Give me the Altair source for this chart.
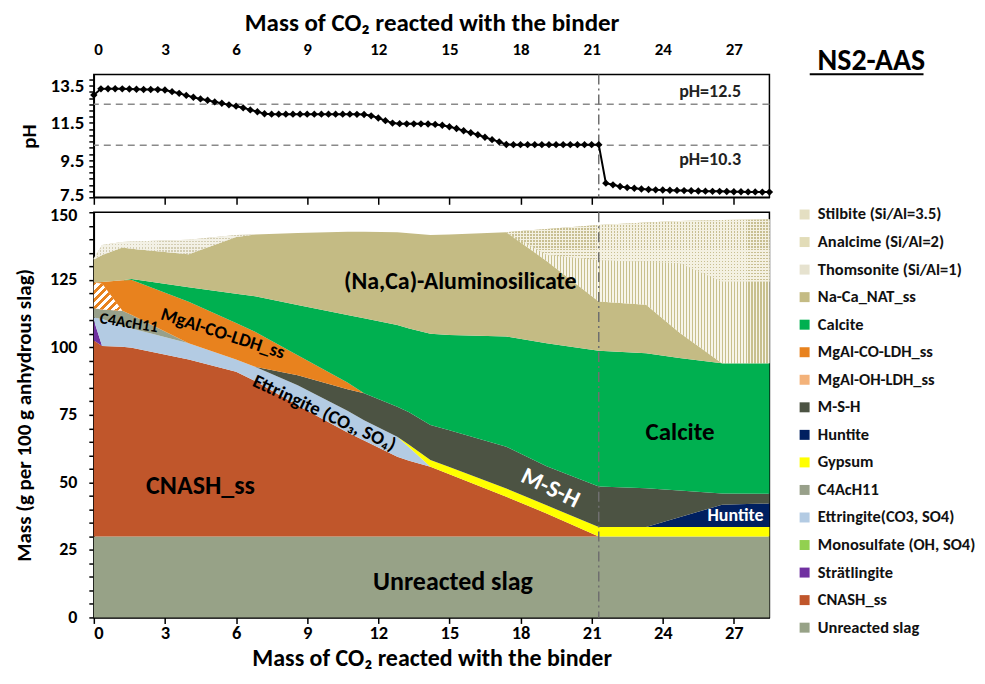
import altair as alt
import pandas as pd

FONT = "Carlito, Lato, 'Open Sans', sans-serif"

# ---------------- pH panel data ----------------
PH_X = [0.0, 0.3, 0.6, 0.9, 1.2, 1.5, 1.8, 2.1, 2.4, 2.7, 3.0, 3.3, 3.6, 3.9, 4.2, 4.5,
        4.8, 5.1, 5.4, 5.7, 6.0, 6.3, 6.6, 6.9, 7.2, 7.5, 7.8, 8.1, 8.4, 8.7, 9.0, 9.3,
        9.6, 9.9, 10.2, 10.5, 10.8, 11.1, 11.4, 11.7, 12.0, 12.3, 12.6, 12.9, 13.2, 13.5,
        13.8, 14.1, 14.4, 14.7, 15.0, 15.3, 15.6, 15.9, 16.2, 16.5, 16.8, 17.1, 17.4, 17.7,
        18.0, 18.3, 18.6, 18.9, 19.2, 19.5, 19.8, 20.1, 20.4, 20.7, 21.0, 21.3, 21.6, 21.9,
        22.2, 22.5, 22.8, 23.1, 23.4, 23.7, 24.0, 24.3, 24.6, 24.9, 25.2, 25.5, 25.8, 26.1,
        26.4, 26.7, 27.0, 27.3, 27.6, 27.9, 28.2, 28.5]
PH = [13.00, 13.33, 13.34, 13.34, 13.33, 13.32, 13.31, 13.30, 13.30, 13.29, 13.27, 13.18,
      13.09, 12.98, 12.88, 12.79, 12.72, 12.63, 12.56, 12.47, 12.40, 12.31, 12.20, 12.10,
      11.99, 11.97, 11.97, 11.97, 11.97, 11.97, 11.97, 11.97, 11.97, 11.97, 11.97, 11.97,
      11.97, 11.96, 11.95, 11.88, 11.76, 11.62, 11.49, 11.46, 11.45, 11.45, 11.45, 11.44,
      11.42, 11.37, 11.29, 11.20, 11.08, 10.97, 10.86, 10.73, 10.60, 10.48, 10.34, 10.33,
      10.33, 10.33, 10.33, 10.33, 10.33, 10.33, 10.33, 10.33, 10.33, 10.33, 10.33, 10.33,
      8.26, 8.17, 8.08, 8.02, 7.99, 7.95, 7.92, 7.90, 7.89, 7.88, 7.87, 7.86, 7.85, 7.84,
      7.83, 7.82, 7.82, 7.81, 7.80, 7.80, 7.79, 7.79, 7.78, 7.78]
PH_REF = [12.5, 10.3]
PH_REF_TEXT = ["pH=12.5", "pH=10.3"]
PH_REF_TEXT_X = [26.0, 26.0]
PH_REF_TEXT_Y = [13.17, 9.5]
TRANSITION_X = [21.3]

X_TICKS = [0, 3, 6, 9, 12, 15, 18, 21, 24, 27]
PH_LABELS = [7.5, 9.5, 11.5, 13.5]
MASS_LABELS = [0, 25, 50, 75, 100, 125, 150]

# ---------------- phase assemblage (cumulative tops) ----------------
X_CO2 = [0, 0.35, 1.2, 1.6, 4, 6, 6.8, 8.6, 10.7, 11.4, 12.8, 13.3, 14.2, 15, 17.4,
         19.1, 21.3, 23.3, 24.7, 26.5, 28.5]
TOP_SLAG = [30, 30, 30, 30, 30, 30, 30, 30, 30, 30, 30, 30, 30, 30, 30, 30, 30, 30, 30, 30, 30]
TOP_CNASH = [102.5, 100.5, 100.2, 99.8, 95.5, 91.0, 87.5, 78.5, 68.5, 65.5, 59.5, 58.0, 55.8,
             53.0, 44.7, 38.5, 30.0, 30.0, 30.0, 30.0, 30.0]
TOP_STRAT = [110.0, 100.5, 100.2, 99.8, 95.5, 91.0, 87.5, 78.5, 68.5, 65.5, 59.5, 58.0, 55.8,
             53.0, 44.7, 38.5, 30.0, 30.0, 30.0, 30.0, 30.0]
TOP_MONO = [110.0, 100.5, 100.2, 99.8, 95.5, 91.0, 87.5, 78.5, 68.5, 65.5, 59.5, 58.0, 55.8,
            53.0, 44.7, 38.5, 30.0, 30.0, 30.0, 30.0, 30.0]
TOP_ETTR = [111.0, 110.5, 108.0, 107.0, 101.5, 95.5, 92.8, 86.0, 76.5, 73.0, 66.9, 63.0, 55.8,
            53.0, 44.7, 38.5, 30.0, 30.0, 30.0, 30.0, 30.0]
TOP_C4 = [114.5, 114.0, 113.5, 112.0, 101.5, 95.5, 92.8, 86.0, 76.5, 73.0, 66.9, 63.0, 55.8,
          53.0, 44.7, 38.5, 30.0, 30.0, 30.0, 30.0, 30.0]
TOP_GYP = [114.5, 114.0, 113.5, 112.0, 101.5, 95.5, 92.8, 86.0, 76.5, 73.0, 66.9, 63.9, 58.3,
           55.7, 47.7, 41.5, 33.5, 33.5, 33.5, 33.5, 33.5]
TOP_HUNT = [114.5, 114.0, 113.5, 112.0, 101.5, 95.5, 92.8, 86.0, 76.5, 73.0, 66.9, 63.9, 58.3,
            55.7, 47.7, 41.5, 33.5, 33.5, 37.1, 41.7, 42.2]
TOP_MSH = [114.5, 114.0, 113.5, 112.0, 101.5, 95.5, 92.8, 89.7, 84.5, 83.0, 78.0, 76.0, 71.2,
           69.3, 63.2, 56.0, 48.5, 47.8, 47.0, 45.9, 45.8]
TOP_MGOH = [124.0, 123.5, 113.5, 112.0, 101.5, 95.5, 92.8, 89.7, 84.5, 83.0, 78.0, 76.0, 71.2,
            69.3, 63.2, 56.0, 48.5, 47.8, 47.0, 45.9, 45.8]
TOP_MGCO = [124.0, 124.2, 124.8, 124.9, 116.9, 109.0, 105.8, 97.1, 87.0, 83.0, 78.0, 76.0, 71.2,
            69.3, 63.2, 56.0, 48.5, 47.8, 47.0, 45.9, 45.8]
TOP_CALC = [124.0, 124.2, 124.8, 125.3, 122.2, 119.8, 118.9, 115.7, 112.0, 110.8, 108.3, 107.0,
            105.0, 104.6, 104.0, 101.5, 98.7, 97.8, 96.0, 94.1, 94.1]
TOP_NACA = [132.5, 134.2, 137.0, 136.5, 134.5, 140.8, 141.8, 142.3, 142.8, 142.8, 142.6, 142.2,
            141.6, 141.8, 142.6, 132.0, 117.0, 115.8, 105.5, 94.1, 94.1]
TOP_THOM = [133.0, 137.9, 139.0, 139.2, 139.8, 141.6, 141.8, 142.3, 142.8, 142.8, 142.6, 142.2,
            141.6, 141.8, 142.6, 132.0, 117.0, 115.8, 105.5, 94.1, 94.1]
TOP_ANAL = [133.0, 137.9, 139.0, 139.2, 139.8, 141.6, 141.8, 142.3, 142.8, 142.8, 142.6, 142.2,
            141.6, 141.8, 142.6, 134.2, 132.2, 131.6, 131.1, 124.3, 124.3]
TOP_STIL = [133.0, 137.9, 139.0, 139.2, 139.8, 141.6, 141.8, 142.3, 142.8, 142.8, 142.6, 142.2,
            141.6, 141.8, 142.6, 143.8, 145.3, 146.2, 146.8, 147.1, 147.4]

PHASES = ["Stilbite (Si/Al=3.5)", "Analcime (Si/Al=2)", "Thomsonite (Si/Al=1)", "Na-Ca_NAT_ss",
          "Calcite", "MgAl-CO-LDH_ss", "MgAl-OH-LDH_ss", "M-S-H", "Huntite", "Gypsum", "C4AcH11",
          "Ettringite(CO3, SO4)", "Monosulfate (OH, SO4)", "Strätlingite", "CNASH_ss",
          "Unreacted slag"]
COLORS = ["#e4dfc2", "#e2dcb8", "#e6e2cf", "#c4bb84", "#00b050", "#e8821e", "#f3b27a", "#4c5343",
          "#002060", "#ffff00", "#98a08a", "#b3cbe3", "#92d050", "#7030a0", "#c0562b", "#97a287"]
TOPS = [TOP_STIL, TOP_ANAL, TOP_THOM, TOP_NACA, TOP_CALC, TOP_MGCO, TOP_MGOH, TOP_MSH, TOP_HUNT,
        TOP_GYP, TOP_C4, TOP_ETTR, TOP_MONO, TOP_STRAT, TOP_CNASH, TOP_SLAG]

# annotations (data coordinates)
ANN_TEXT = ["(Na,Ca)-Aluminosilicate", "MgAl-CO-LDH_ss", "C4AcH11", "Ettringite (CO₃, SO₄)",
            "CNASH_ss", "Calcite", "M-S-H", "Huntite", "Unreacted slag"]
ANN_X = [15.46, 5.45, 1.48, 9.73, 4.5, 24.73, 19.26, 27.07, 15.15]
ANN_Y = [124.3, 105.2, 109.1, 75.7, 48.7, 68.7, 47.8, 37.5, 13.1]
ANN_ANGLE = [0, 18, 9, 25, 0, 0, 26, 0, 0]
ANN_SIZE = [24, 18.5, 16, 19, 26, 25, 24, 18, 26]
ANN_COLOR = ["black", "black", "black", "black", "black", "black", "white", "white", "black"]

# ---------------- build tables ----------------
rows = []
prev = [0] * len(X_CO2)
for name, top in list(zip(PHASES, TOPS))[::-1]:
    for xv, lo, hi in zip(X_CO2, prev, top):
        rows.append({"x": xv, "lo": lo, "hi": hi, "phase": name})
    prev = top
df = pd.DataFrame(rows)


def stripes(c1, c2, n, frac, x2, y2):
    stops = []
    for i in range(n):
        a, b, c = i / n, (i + frac) / n, (i + 1) / n
        stops += [{"offset": a, "color": c1}, {"offset": b, "color": c1},
                  {"offset": b, "color": c2}, {"offset": c, "color": c2}]
    return {"gradient": "linear", "x1": 0, "y1": 0, "x2": x2, "y2": y2, "stops": stops}


W = 677
xs_top = alt.Scale(domain=[0, 28.5], nice=False, zero=False)
ys_ph = alt.Scale(domain=[7.5, 14.1], nice=False, zero=False)
xs = alt.Scale(domain=[0, 28.5], nice=False, zero=False)
ys = alt.Scale(domain=[0, 150], nice=False, zero=False)

ph_tick_values = [round(7.5 + i / 3, 3) for i in range(20)]
ph_label_expr = "indexof(%s, datum.value) >= 0 ? format(datum.value, '.1f') : ''" % PH_LABELS
mass_tick_values = list(range(0, 151, 5))
mass_label_expr = "indexof(%s, datum.value) >= 0 ? datum.label : ''" % MASS_LABELS

# ---------------- top panel ----------------
ph_df = pd.DataFrame({"x": PH_X, "ph": PH})
ph_line = alt.Chart(ph_df).mark_line(
    color="black", strokeWidth=2,
    point=alt.OverlayMarkDef(shape="diamond", size=55, filled=True, color="black"),
).encode(
    x=alt.X("x:Q", scale=xs_top, axis=alt.Axis(
        orient="top", values=X_TICKS, title="Mass of CO₂ reacted with the binder",
        ticks=False, tickSize=0, labelPadding=16, titlePadding=5, titleFontSize=25,
        labelFontSize=17, grid=False, domain=False)),
    y=alt.Y("ph:Q", scale=ys_ph, axis=alt.Axis(
        orient="left", values=ph_tick_values, labelExpr=ph_label_expr, title="pH", tickSize=5,
        labelPadding=5, titlePadding=10, labelFontSize=19, titleFontSize=21, grid=False,
        labelOffset={"condition": {"test": "datum.value == 7.5", "value": -3}, "value": 0})),
)
ph_rules = alt.Chart(pd.DataFrame({"ph": PH_REF})).mark_rule(
    color="#8a8a8a", strokeDash=[7, 5], strokeWidth=1.5
).encode(y=alt.Y("ph:Q", scale=ys_ph, axis=None))
vline_top = alt.Chart(pd.DataFrame({"x": TRANSITION_X})).mark_rule(
    color="#6f6f6f", strokeDash=[10, 4, 2, 4], strokeWidth=1.5
).encode(x=alt.X("x:Q", scale=xs_top, axis=alt.Axis(
    orient="bottom", values=X_TICKS, labels=False, title=None, tickSize=7, grid=False)))
ph_txt = alt.Chart(pd.DataFrame({"x": PH_REF_TEXT_X, "y": PH_REF_TEXT_Y, "t": PH_REF_TEXT})).mark_text(
    font=FONT, fontWeight="bold", fontSize=18, color="#222222"
).encode(x=alt.X("x:Q", scale=xs_top, axis=None), y=alt.Y("y:Q", scale=ys_ph, axis=None), text="t:N")
ns2_txt = alt.Chart(pd.DataFrame({"x": [32.8], "y": [14.85], "t": ["NS2-AAS"]})).mark_text(
    font=FONT, fontWeight="bold", fontSize=30, color="black"
).encode(x=alt.X("x:Q", scale=xs_top, axis=None), y=alt.Y("y:Q", scale=ys_ph, axis=None), text="t:N")
ns2_rule = alt.Chart(pd.DataFrame({"x": [30.2], "x2": [35.0], "y": [14.12]})).mark_rule(
    color="black", strokeWidth=2
).encode(x=alt.X("x:Q", scale=xs_top, axis=None), x2="x2:Q", y=alt.Y("y:Q", scale=ys_ph, axis=None))

top = alt.layer(ph_rules, vline_top, ph_line, ph_txt, ns2_txt, ns2_rule).properties(
    width=W, height=123).resolve_axis(x="independent", y="independent")

# ---------------- bottom panel ----------------
areas = alt.Chart(df).mark_area(interpolate="linear").encode(
    x=alt.X("x:Q", scale=xs, axis=alt.Axis(
        orient="bottom", values=X_TICKS, title="Mass of CO₂ reacted with the binder", tickSize=6,
        labelPadding=0, titlePadding=5, labelFontSize=18.5, titleFontSize=24, grid=False)),
    y=alt.Y("lo:Q", stack=None, scale=ys, axis=alt.Axis(
        orient="left", values=mass_tick_values, labelExpr=mass_label_expr,
        title="Mass (g per 100 g anhydrous slag)", tickSize=5, labelPadding=12,
        titlePadding=15, labelFontSize=18, titleFontSize=21, grid=False,
        labelOffset={"condition": {"test": "datum.value == 150", "value": 3}, "value": 0})),
    y2="hi:Q",
    color=alt.Color("phase:N", scale=alt.Scale(domain=PHASES, range=COLORS), legend=alt.Legend(
        title=None, orient="none", legendX=704, legendY=-6, symbolType="square",
        symbolSize=100, symbolStrokeWidth=0, labelFont=FONT, labelFontSize=16.5,
        labelFontWeight="bold", labelColor="#111111", rowPadding=10.6, labelOffset=5,
        padding=0, labelLimit=158)),
)


def overlay(sub, fill):
    return alt.Chart(sub).mark_area(color=fill).encode(
        x=alt.X("x:Q", scale=xs, axis=None),
        y=alt.Y("lo:Q", stack=None, scale=ys, axis=None), y2="hi:Q")


CLEAR = "rgba(255,255,255,0)"
stil_df = df[(df.phase == "Stilbite (Si/Al=3.5)") & (df.x >= 17.4)]
anal_df = df[(df.phase == "Analcime (Si/Al=2)") & (df.x >= 17.4)]
thom_df = df[(df.phase == "Thomsonite (Si/Al=1)") & (df.x <= 6.8)]
mgoh_df = df[(df.phase == "MgAl-OH-LDH_ss") & (df.x <= 1.2)]

pattern_layers = [
    overlay(stil_df, "#c8bf92"),
    overlay(stil_df, stripes(CLEAR, "#f4f1e2", 88, 0.5, 1, 0)),
    overlay(stil_df, stripes(CLEAR, "#f4f1e2", 21, 0.5, 0, 1)),
    overlay(anal_df, stripes("#c8c08e", "#f7f5ea", 88, 0.42, 1, 0)),
    overlay(thom_df, "#d3cdb2"),
    overlay(thom_df, stripes(CLEAR, "#f3f1e6", 54, 0.5, 1, 0)),
    overlay(thom_df, stripes(CLEAR, "#f3f1e6", 8, 0.5, 0, 1)),
    overlay(mgoh_df, stripes("#e8821e", "#ffffff", 7, 0.45, 1, 1)),
]

vline_bot = alt.Chart(pd.DataFrame({"x": TRANSITION_X})).mark_rule(
    color="#6f6f6f", strokeDash=[10, 4, 2, 4], strokeWidth=1.5
).encode(x=alt.X("x:Q", scale=xs, axis=None))

texts = []
for t, xv, yv, ang, sz, col in zip(ANN_TEXT, ANN_X, ANN_Y, ANN_ANGLE, ANN_SIZE, ANN_COLOR):
    texts.append(alt.Chart(pd.DataFrame({"x": [xv], "y": [yv], "t": [t]})).mark_text(
        font=FONT, fontWeight="bold", fontSize=sz, color=col, angle=ang
    ).encode(x=alt.X("x:Q", scale=xs, axis=None), y=alt.Y("y:Q", scale=ys, axis=None), text="t:N"))

bottom = alt.layer(areas, *pattern_layers, vline_bot, *texts).properties(
    width=W, height=406).resolve_axis(x="independent", y="independent")

chart = alt.vconcat(top, bottom, spacing=15, bounds="flush").resolve_legend(
    color="independent").resolve_scale(color="independent").configure(
    font=FONT, background="white", padding={"left": 4, "top": 1, "right": 0, "bottom": 0}
).configure_view(
    stroke="black", strokeWidth=1.5
).configure_axis(
    labelFont=FONT, titleFont=FONT, labelFontWeight="bold", titleFontWeight="bold",
    labelColor="black", titleColor="black",
    domainColor="black", tickColor="black", domainWidth=1.5, tickWidth=1.5
)

chart.save("out.html", embed_options={"renderer": "svg", "actions": False})
